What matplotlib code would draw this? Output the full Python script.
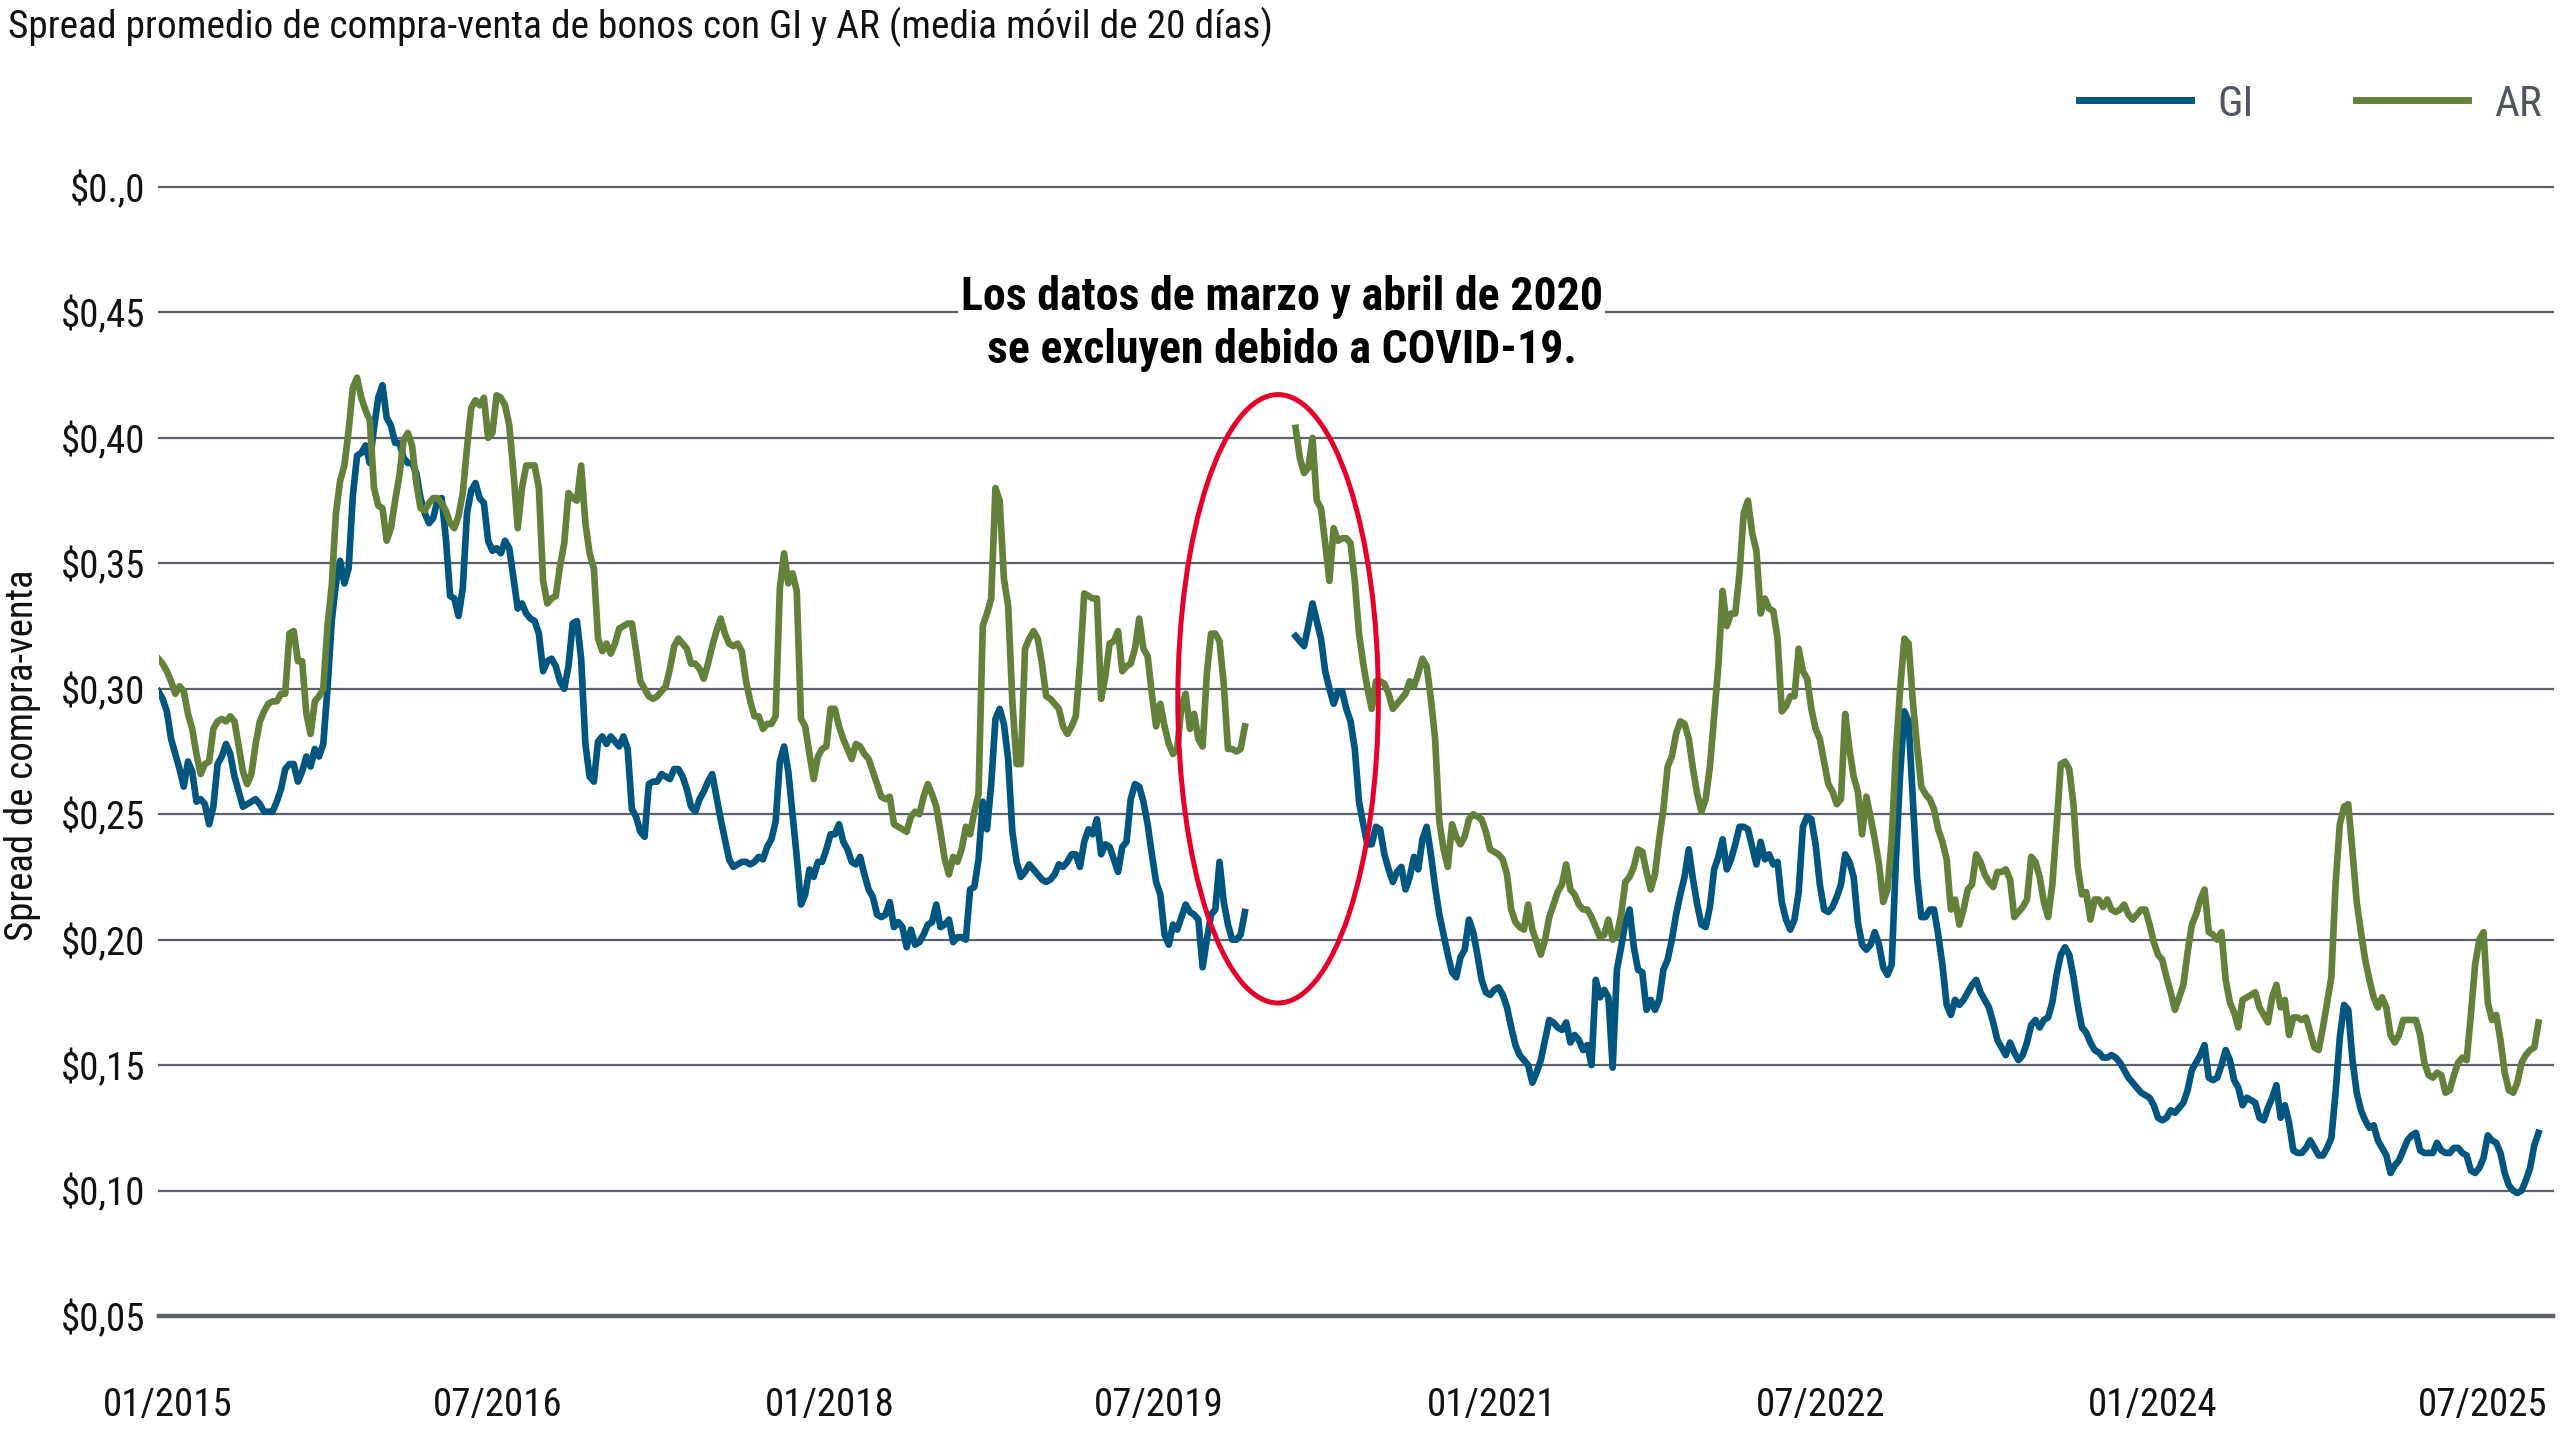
import numpy as np
import pandas as pd
import matplotlib
matplotlib.use("Agg")
import matplotlib.pyplot as plt
import matplotlib.dates as mdates
from matplotlib.patches import Ellipse
from matplotlib.lines import Line2D
from matplotlib import font_manager

nan = np.nan

# ---------------- DATA ----------------
title = "Spread promedio de compra-venta de bonos con GI y AR (media móvil de 20 días)"
ylabel = "Spread de compra-venta"
annotation = "Los datos de marzo y abril de 2020\nse excluyen debido a COVID-19."
series_names = ["GI", "AR"]
start_date = "2014-12-17"   # weekly observations (20-day moving average)

gi = [
    .299,.296,.291,.280,.274,.268,.261,.271,.267,.255,
    .256,.254,.246,.253,.270,.273,.278,.274,.265,.259,
    .253,.254,.255,.256,.254,.251,.251,.251,.255,.260,
    .268,.270,.270,.263,.267,.273,.269,.276,.273,.278,
    .300,.327,.342,.351,.342,.348,.377,.393,.394,.397,
    .390,.404,.416,.421,.408,.405,.398,.398,.392,.390,
    .390,.386,.376,.370,.366,.368,.375,.376,.360,.337,
    .336,.329,.340,.370,.379,.382,.376,.374,.359,.355,
    .356,.354,.359,.356,.344,.332,.334,.330,.328,.327,
    .322,.307,.311,.312,.309,.303,.300,.309,.326,.327,
    .312,.278,.265,.263,.279,.281,.278,.281,.279,.277,
    .281,.276,.252,.249,.243,.241,.262,.263,.263,.266,
    .265,.264,.268,.268,.265,.260,.253,.251,.256,.259,
    .263,.266,.257,.248,.240,.232,.229,.230,.231,.231,
    .230,.231,.233,.232,.237,.240,.247,.271,.277,.267,
    .250,.233,.214,.218,.228,.225,.231,.231,.236,.242,
    .242,.246,.239,.236,.231,.230,.233,.226,.220,.217,
    .210,.209,.210,.215,.205,.207,.205,.197,.204,.198,
    .199,.202,.206,.207,.214,.205,.206,.208,.199,.201,
    .201,.200,.220,.221,.232,.255,.244,.262,.288,.292,
    .286,.272,.243,.231,.225,.227,.230,.228,.226,.224,
    .223,.224,.226,.230,.229,.231,.234,.234,.229,.239,
    .244,.242,.248,.234,.238,.237,.232,.227,.237,.239,
    .256,.262,.261,.255,.246,.234,.223,.218,.202,.198,
    .206,.204,.209,.214,.211,.210,.208,.189,.200,.210,
    .212,.231,.215,.206,.200,.200,.202,.211, nan, nan,
    nan, nan, nan, nan, nan, nan, nan, nan, nan,.321,
    .319,.317,.325,.334,.327,.320,.307,.300,.294,.299,
    .299,.292,.287,.276,.255,.246,.238,.238,.245,.244,
    .234,.228,.223,.227,.229,.220,.225,.233,.228,.240,
    .245,.234,.221,.210,.202,.194,.187,.185,.193,.196,
    .208,.203,.194,.184,.179,.178,.180,.181,.178,.173,
    .165,.158,.154,.152,.150,.143,.147,.152,.160,.168,
    .167,.165,.164,.167,.159,.162,.160,.156,.158,.150,
    .184,.177,.180,.177,.149,.188,.197,.207,.212,.197,
    .188,.187,.172,.176,.172,.176,.188,.192,.200,.210,
    .218,.225,.236,.224,.214,.206,.205,.213,.228,.233,
    .240,.228,.232,.238,.245,.245,.244,.237,.230,.239,
    .232,.234,.230,.231,.215,.208,.204,.208,.219,.245,
    .249,.248,.238,.222,.212,.211,.213,.217,.222,.234,
    .231,.225,.207,.198,.196,.198,.203,.198,.189,.186,
    .190,.232,.266,.291,.287,.256,.225,.209,.209,.212,
    .212,.202,.190,.174,
    .170,.176,.174,.176,.179,.182,.184,.179,.176,.173,
    .167,.160,.157,.154,.159,.155,.152,.154,.159,.166,
    .168,.165,.168,.169,.175,.186,.194,.197,.194,.185,
    .174,.165,.163,.159,.156,.155,.153,.153,.154,.153,
    .151,.148,.145,.143,.141,.139,.138,.137,.134,.129,
    .128,.129,.132,.131,.133,.135,.140,.148,.151,.154,
    .158,.145,.144,.145,.150,.156,.152,.144,.141,.134,
    .137,.136,.135,.129,.128,.133,.137,.142,.129,.134,
    .127,.116,.115,.115,.117,.120,.117,.114,.114,.117,
    .121,.139,.161,.174,.172,.152,.139,.132,.128,.125,
    .126,.120,.117,.114,.107,.110,.112,.116,.120,.122,
    .123,.116,.115,.115,.115,.119,.116,.115,.115,.117,
    .117,.115,.114,.108,.107,.109,.113,.122,.120,.119,
    .115,.107,.102,.100,.099,.100,.104,.109,.118,.123,
]

ar = [
    .312,.310,.307,.303,.298,.301,.299,.290,.284,.274,
    .266,.270,.271,.284,.287,.288,.287,.289,.287,.277,
    .267,.262,.266,.278,.287,.291,.294,.295,.295,.298,
    .298,.322,.323,.311,.311,.290,.282,.295,.297,.300,
    .325,.341,.370,.383,.389,.403,.420,.424,.416,.411,
    .407,.380,.373,.372,.359,.364,.375,.385,.399,.402,
    .397,.382,.372,.371,.374,.376,.376,.374,.371,.366,
    .364,.369,.378,.396,.412,.415,.413,.416,.400,.402,
    .417,.416,.413,.405,.386,.364,.380,.389,.389,.389,
    .380,.343,.334,.336,.337,.349,.358,.378,.376,.375,
    .389,.366,.354,.348,.320,.315,.318,.314,.318,.324,
    .325,.326,.326,.315,.303,.300,.297,.296,.297,.299,
    .301,.308,.317,.320,.318,.316,.310,.310,.308,.304,
    .310,.317,.323,.328,.322,.318,.317,.318,.315,.303,
    .295,.289,.289,.284,.286,.286,.289,.340,.354,.342,
    .346,.339,.288,.285,.274,.264,.273,.276,.277,.292,
    .292,.285,.280,.276,.272,.278,.277,.274,.272,.267,
    .262,.257,.256,.257,.246,.245,.244,.243,.249,.251,
    .250,.257,.262,.258,.253,.243,.232,.226,.233,.231,
    .236,.245,.242,.251,.258,.325,.330,.336,.380,.375,
    .344,.333,.295,.270,.270,.316,.320,.323,.320,.310,
    .297,.296,.294,.292,.285,.282,.285,.289,.310,.338,
    .337,.336,.336,.296,.305,.318,.319,.323,.307,.309,
    .310,.316,.328,.316,.313,.298,.285,.294,.285,.278,
    .274,.276,.293,.298,.284,.290,.280,.277,.306,.322,
    .322,.319,.302,.276,.276,.275,.276,.285, nan, nan,
    nan, nan, nan, nan, nan, nan, nan, nan, nan,.404,
    .392,.386,.388,.400,.375,.372,.358,.343,.364,.359,
    .360,.360,.358,.343,.322,.310,.300,.292,.303,.303,
    .302,.298,.292,.294,.296,.298,.303,.301,.306,.312,
    .309,.296,.280,.247,.236,.229,.246,.241,.238,.241,
    .248,.250,.249,.248,.243,.236,.235,.234,.232,.226,
    .212,.207,.205,.204,.214,.204,.199,.194,.200,.209,
    .214,.219,.222,.230,.220,.218,.214,.212,.212,.209,
    .205,.201,.202,.208,.200,.202,.210,.223,.225,.229,
    .236,.235,.227,.220,.226,.240,.252,.269,.273,.282,
    .287,.286,.280,.268,.258,.251,.256,.269,.289,.309,
    .339,.325,.330,.330,.346,.370,.375,.362,.355,.330,
    .336,.332,.331,.320,.291,.293,.297,.297,.316,.307,
    .304,.292,.284,.280,.271,.262,.259,.254,.256,.290,
    .276,.265,.259,.242,.257,.249,.240,.230,.215,.220,
    .240,.275,.300,.320,.318,.295,.277,.261,.258,.256,
    .252,.244,.239,.232,
    .212,.216,.206,.212,.220,.222,.234,.231,.226,.223,
    .221,.227,.227,.228,.224,.209,.211,.213,.216,.233,
    .231,.225,.215,.209,.222,.245,.270,.271,.268,.254,
    .229,.218,.219,.208,.216,.216,.213,.216,.212,.211,
    .212,.214,.210,.208,.210,.212,.212,.206,.199,.194,
    .192,.185,.179,.172,.177,.182,.195,.206,.210,.216,
    .220,.203,.202,.200,.203,.184,.175,.171,.165,.176,
    .177,.178,.179,.173,.170,.167,.177,.182,.173,.176,
    .162,.169,.169,.168,.169,.163,.157,.156,.165,.175,
    .185,.222,.246,.253,.254,.235,.215,.203,.192,.184,
    .177,.173,.177,.173,.162,.159,.162,.168,.168,.168,
    .168,.162,.151,.146,.145,.147,.146,.139,.140,.146,
    .151,.153,.152,.170,.190,.200,.203,.175,.168,.170,
    .160,.147,.140,.139,.143,.151,.154,.156,.157,.167,
]

x_tick_dates = ["2015-01-01", "2016-07-01", "2018-01-01", "2019-07-01",
                "2021-01-01", "2022-07-01", "2024-01-01", "2025-07-01"]
x_tick_labels = ["01/2015", "07/2016", "01/2018", "07/2019",
                 "01/2021", "07/2022", "01/2024", "07/2025"]
y_ticks = [0.05, 0.10, 0.15, 0.20, 0.25, 0.30, 0.35, 0.40, 0.45, 0.50]
y_tick_labels = ["$0,05", "$0,10", "$0,15", "$0,20", "$0,25", "$0,30",
                 "$0,35", "$0,40", "$0,45", "$0.,0"]

# ---------------- STYLE ----------------
names = {f.name for f in font_manager.fontManager.ttflist}
cond = None
for cand in ["Roboto Condensed", "Liberation Sans Narrow", "Roboto"]:
    if cand in names:
        cond = cand
        break
if cond is None:
    cond = "DejaVu Sans"
plt.rcParams["font.family"] = [cond, "DejaVu Sans"]

BLUE = "#00567f"
GREEN = "#64813b"
GRID = "#5d6068"
TEXT = "#111111"
LEGTEXT = "#50555e"
RED = "#e4002b"
FS = 28

dates = pd.date_range(start=start_date, periods=len(gi), freq="7D")

fig = plt.figure(figsize=(25.6, 14.4), dpi=100)
ax = fig.add_axes([159/2560, 1 - 1316/1440, (2553-159)/2560, (1316-187)/1440])

ax.set_ylim(0.05, 0.50)
ax.set_xlim(pd.Timestamp("2014-12-18"), pd.Timestamp("2025-10-25"))

for yv in y_ticks:
    lw = 3.2 if yv == y_ticks[0] else 1.6
    ax.axhline(yv, color=GRID, lw=lw, zorder=1, clip_on=False)

ax.plot(dates, gi, color=BLUE, lw=4.8, zorder=3, solid_joinstyle="round")
ax.plot(dates, ar, color=GREEN, lw=4.8, zorder=3, solid_joinstyle="round")

for s in ax.spines.values():
    s.set_visible(False)

ax.set_yticks(y_ticks)
ax.set_yticklabels(y_tick_labels, fontsize=FS, color=TEXT)
ax.set_xticks(pd.to_datetime(x_tick_dates))
ax.set_xticklabels(x_tick_labels, fontsize=FS, color=TEXT)
ax.tick_params(axis="y", length=0, pad=10)
ax.tick_params(axis="x", length=0, pad=51)

fig.text(23/2560, 1 - 755/1440, ylabel, rotation=90, ha="center", va="center",
         fontsize=FS, color=TEXT)
fig.text(8/2560, 1 - 27/1440, title, ha="left", va="center", fontsize=28.4,
         color=TEXT)

# annotation
ax.text(pd.Timestamp("2020-01-20"), 0.4455, annotation, ha="center", va="center",
        fontsize=33, fontweight="bold", color="#000000", linespacing=1.25,
        zorder=5, bbox=dict(boxstyle="square,pad=0.05", fc="white", ec="none"))

ell = Ellipse((mdates.date2num(pd.Timestamp("2020-01-14")), 0.296),
              width=332, height=0.2425, fill=False, ec=RED, lw=3.6, zorder=4)
ax.add_patch(ell)

handles = [Line2D([], [], color=BLUE, lw=5), Line2D([], [], color=GREEN, lw=5)]
leg = fig.legend(handles, series_names, loc="center right",
                 bbox_to_anchor=(2542/2560, 1 - 104/1440), ncol=2, frameon=False,
                 handlelength=2.6, handletextpad=0.6,
                 columnspacing=2.4, labelcolor=LEGTEXT, borderpad=0,
                 borderaxespad=0, prop=dict(size=31))

fig.savefig("out.png", dpi=100)
